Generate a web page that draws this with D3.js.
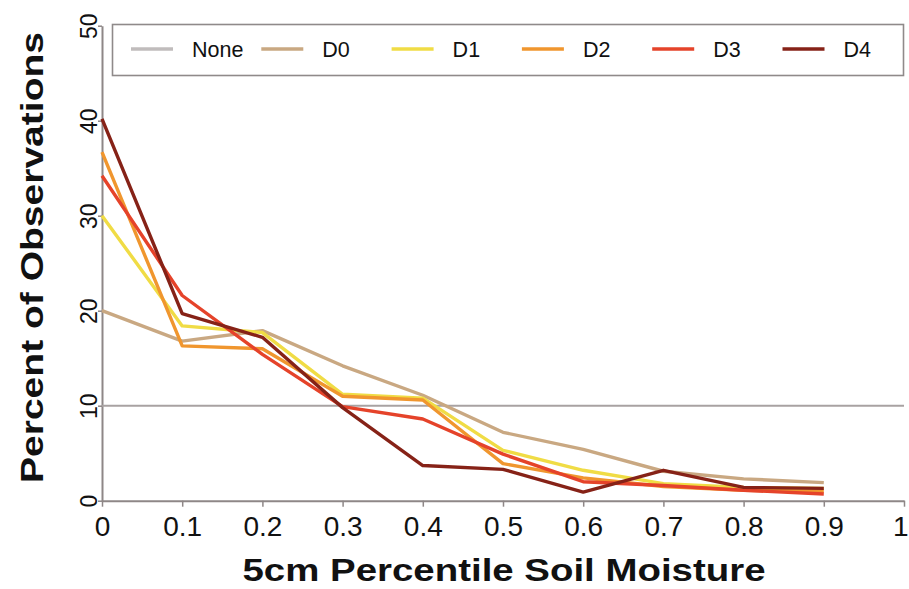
<!DOCTYPE html>
<html>
<head>
<meta charset="utf-8">
<script src="https://cdn.jsdelivr.net/npm/d3@7"></script>
<style>
  html, body { margin: 0; padding: 0; background: #fff; }
  svg { display: block; }
  text { font-family: "Liberation Sans", Arial, sans-serif; fill: #111; }
</style>
</head>
<body>
<svg id="chart" width="909" height="589"></svg>
<script>
// Soil-moisture percentile bins (lower bin edge)
const bins = [0, 0.1, 0.2, 0.3, 0.4, 0.5, 0.6, 0.7, 0.8, 0.9];
// "None": uniform 10% reference across the full percentile range
const noneX = [0, 0.1, 0.2, 0.3, 0.4, 0.5, 0.6, 0.7, 0.8, 0.9, 1];
const noneVals = [10, 10, 10, 10, 10, 10, 10, 10, 10, 10, 10];
// Percent of observations per bin, by drought category
const d0Vals = [20.0, 16.8, 17.9, 14.2, 11.1, 7.2, 5.4, 3.1, 2.3, 1.9];
const d1Vals = [30.0, 18.4, 17.7, 11.2, 10.8, 5.3, 3.2, 1.8, 1.4, 1.3];
const d2Vals = [36.7, 16.3, 16.0, 11.0, 10.6, 3.9, 2.4, 1.5, 1.1, 1.0];
const d3Vals = [34.2, 21.6, 15.4, 9.9, 8.6, 4.9, 2.0, 1.6, 1.1, 0.7];
const d4Vals = [40.2, 19.7, 17.2, 9.8, 3.7, 3.3, 0.9, 3.2, 1.4, 1.3];
const seriesNames = ["None", "D0", "D1", "D2", "D3", "D4"];
const seriesColors = ["#a8a2a2", "#c9a882", "#f0dc45", "#f0962e", "#e5432a", "#862217"];
const xTicks = [0, 0.1, 0.2, 0.3, 0.4, 0.5, 0.6, 0.7, 0.8, 0.9, 1];
const xTickLabels = ["0", "0.1", "0.2", "0.3", "0.4", "0.5", "0.6", "0.7", "0.8", "0.9", "1"];
const yTicks = [0, 10, 20, 30, 40, 50];

const svg = d3.select("#chart");
const x = d3.scaleLinear().domain([0, 1]).range([102, 904]);
const y = d3.scaleLinear().domain([0, 50]).range([500.7, 25.7]);
const axisColor = "#8e8787";

const series = [
  { name: "None", xs: noneX, vals: noneVals },
  { name: "D0", xs: bins, vals: d0Vals },
  { name: "D1", xs: bins, vals: d1Vals },
  { name: "D2", xs: bins, vals: d2Vals },
  { name: "D3", xs: bins, vals: d3Vals },
  { name: "D4", xs: bins, vals: d4Vals }
];

// Axes
const xAxis = svg.append("g")
  .attr("transform", `translate(0,${y(0)})`)
  .call(d3.axisBottom(x).tickValues(xTicks).tickSize(6).tickSizeOuter(0)
    .tickFormat((d, i) => xTickLabels[i]));
xAxis.select(".domain").attr("stroke", axisColor).attr("stroke-width", 2);
xAxis.selectAll(".tick line").attr("stroke", axisColor).attr("stroke-width", 1.5);
xAxis.selectAll(".tick text")
  .attr("y", 35).attr("dy", 0)
  .style("font-size", "28px")
  .attr("fill", "#111");
// keep the last label inside the page edge
xAxis.selectAll(".tick text").filter(d => d === 1)
  .attr("text-anchor", "end").attr("x", 4);

const yAxis = svg.append("g")
  .attr("transform", `translate(${x(0)},0)`)
  .call(d3.axisLeft(y).tickValues(yTicks).tickSize(4).tickSizeOuter(0));
yAxis.select(".domain").attr("stroke", axisColor).attr("stroke-width", 2);
yAxis.selectAll(".tick line").attr("stroke", axisColor).attr("stroke-width", 1.5);
yAxis.selectAll(".tick text")
  .attr("x", 0).attr("dy", 0)
  .attr("transform", "translate(-5,0) rotate(-90)")
  .attr("text-anchor", "middle")
  .style("font-size", "23px")
  .attr("fill", "#222");

// Lines
const line = d3.line().x(d => x(d[0])).y(d => y(d[1]));
svg.append("g").selectAll("path")
  .data(series)
  .join("path")
  .attr("d", s => line(s.xs.map((v, i) => [v, s.vals[i]])))
  .attr("fill", "none")
  .attr("stroke", (s, i) => seriesColors[i])
  .attr("stroke-width", (s, i) => i === 0 ? 2 : 3.4)
  .attr("stroke-linejoin", "round");

// Legend
const legend = svg.append("g");
legend.append("rect")
  .attr("x", 112.5).attr("y", 24.5).attr("width", 791).attr("height", 51)
  .attr("fill", "#fff").attr("stroke", "#8f8a8a").attr("stroke-width", 1.6);
const item = legend.selectAll("g.item")
  .data(seriesNames)
  .join("g")
  .attr("class", "item")
  .attr("transform", (d, i) => `translate(${131 + i * 130.3},49)`);
item.append("line")
  .attr("x1", 0).attr("x2", 42).attr("y1", 0).attr("y2", 0)
  .attr("stroke", (d, i) => i === 0 ? "#c0bcbc" : seriesColors[i])
  .attr("stroke-width", 3.4);
item.append("text")
  .attr("x", 61)
  .attr("y", 8)
  .style("font-size", "21.5px")
  .text(d => d);

// Axis titles
svg.append("text")
  .attr("x", 242.5).attr("y", 581)
  .attr("textLength", 523).attr("lengthAdjust", "spacingAndGlyphs")
  .style("font-size", "32px").style("font-weight", "bold")
  .text("5cm Percentile Soil Moisture");

svg.append("text")
  .attr("transform", "translate(43,483) rotate(-90)")
  .attr("textLength", 451).attr("lengthAdjust", "spacingAndGlyphs")
  .style("font-size", "32px").style("font-weight", "bold")
  .text("Percent of Observations");
</script>
</body>
</html>
